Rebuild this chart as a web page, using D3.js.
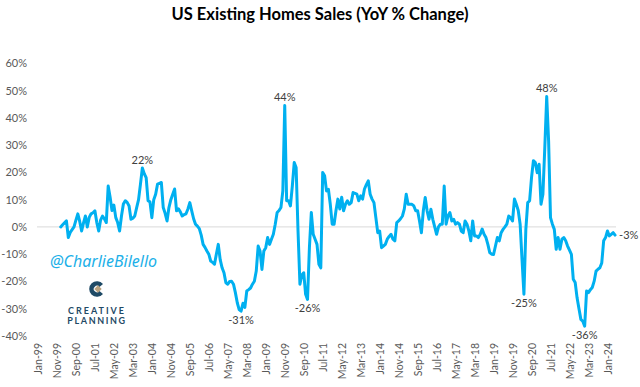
<!DOCTYPE html>
<html>
<head>
<meta charset="utf-8">
<script src="https://cdnjs.cloudflare.com/ajax/libs/d3/7.8.5/d3.min.js"></script>
<style>
body { margin: 0; background: #fff; }
text { font-family: Lato, "Open Sans", sans-serif; }
</style>
</head>
<body>
<svg id="chart" width="640" height="387"></svg>
<script>
var width = 640;
var height = 387;

// monthly categories on the axis run Jan-99 .. May-24
var axisStart = new Date(1999, 0, 1);
var axisEnd = new Date(2024, 5, 1);
var firstDataMonth = new Date(2000, 0, 1);

// YoY % change, Jan-00 .. May-24
var yoy = [
  0, 0.8, 1.5, 2.2, -3.9, -2, -1, 0, 2.5, 4.8, 2, -1.5,
  1.5, 4, 0, 3.5, 4.8, 5.2, 5.9, 1.6, -1.5, 2.5, 4, 3,
  1.6, 15, 11, 6, 8, 3.4, 1.6, -1.5, 4, 8.4, 9.6, 9,
  7.7, 2.8, 3.2, 4, 7.1, 10, 15.7, 21.6, 19.5, 18.1, 9.6, 9.2,
  3.4, 10, 12, 15.7, 16, 16.3, 7.1, 5, 2.2, 7.1, 10, 12,
  13.9, 5.9, 6.6, 5.5, 4, 4.5, 4.8, 6.6, 8.9, 5.9, 3, 1,
  0.3, -0.6, -3, -6.4, -7.5, -8.8, -10, -12.5, -13, -13.7, -9.9, -6.4,
  -12, -15, -16.8, -20.5, -21, -20, -19.9, -21, -24.1, -27.8, -30.3, -30.9,
  -28, -29.5, -23.5, -23, -22.4, -21, -19.9, -16.2, -7, -8.8, -15.6, -8.8,
  -7.6, -3.9, -6.4, -4.5, -2.7, 1, 5.3, 6, 7.1, 13.2, 44.5, 9.6,
  9.6, 7.7, 15, 23.6, 21.8, -1.5, -21, -17.6, -16.8, -24.7, -26.6, -7.6,
  5.3, -2.7, -4.5, -6.4, -13.7, -15, 20, 18.8, 13.2, 13.8, 8.3, 1,
  1, 6, 10.2, 6.6, 10.9, 5.9, 8.3, 9.6, 8.3, 8.9, 12.6, 12.3,
  12, 9.6, 11.4, 10.2, 13.9, 15.5, 16.9, 12, 10.2, 8.9, 3.4, -2.1,
  -1.5, -7.6, -7, -6.4, -4.5, -3.5, -2.7, -4.5, -5.1, 1.6, 2.2, 3,
  4, 6.6, 12, 8.3, 8.3, 8.3, 7.7, 5.9, 5.9, 2.2, -2.1, 5.9,
  10.8, 5.9, 2.8, 6.5, 2.8, 0, -2.7, 0, 1, 1, 15, 1,
  4, 5.3, 2.2, 2.8, 1, 1.6, 1, -1.5, -2.1, 2.2, 1, -1.5,
  -5.1, 2.2, -3.3, -3.3, -3.9, -2.7, -0.8, -2.7, -3.9, -6.4, -9.4, -10,
  -10.1, -7, -3.9, -5.1, -2.1, -0.9, 0, 1, 4, 3.4, 2.2, 10.2,
  8.3, 6, 1, -12, -24.7, -1, 8.9, 9.6, 18.1, 24.3, 23.6, 19.9,
  23, 8.3, 12, 29.2, 47.8, 31.5, 3.4, 1, -0.9, -8.2, -3.9, -8.2,
  -4.5, -3.9, -5.1, -7, -8.5, -10.1, -19.2, -20.4, -26, -30, -33.9, -34.6,
  -36.4, -23.5, -24.1, -23, -22.2, -19.9, -16.2, -15.5, -15, -13.2, -5.1, -3.9,
  -1.5, -3.3, -2.7, -2.1, -3
];

var tickLabels = ["Jan-99","Nov-99","Sep-00","Jul-01","May-02","Mar-03","Jan-04","Nov-04",
  "Sep-05","Jul-06","May-07","Mar-08","Jan-09","Nov-09","Sep-10","Jul-11","May-12","Mar-13",
  "Jan-14","Nov-14","Sep-15","Jul-16","May-17","Mar-18","Jan-19","Nov-19","Sep-20","Jul-21",
  "May-22","Mar-23","Jan-24"];
var yTicks = [60, 50, 40, 30, 20, 10, 0, -10, -20, -30, -40];

// data labels: month, text, where
var calloutMonths = ["Aug-03","Nov-09","May-21","Dec-07","Nov-10","May-20","Jan-23","May-24"];
var calloutTexts = ["22%","44%","48%","-31%","-26%","-25%","-36%","-3%"];
var calloutPos = ["above","above","above","below","below","below","below","right"];

var fmt = d3.timeFormat("%b-%y");
var months = d3.timeMonth.range(axisStart, axisEnd);
var categories = months.map(fmt);
var offset = d3.timeMonth.count(axisStart, firstDataMonth);

var data = yoy.map(function(v, i) { return {cat: categories[offset + i], value: v}; });

var svg = d3.select("#chart");

var x = d3.scalePoint()
    .domain(categories)
    .range([37, 616])
    .padding(0.5);

var y = d3.scaleLinear()
    .domain([-40, 60])
    .range([336, 63.3]);

// title
svg.append("text")
    .attr("x", 320)
    .attr("y", 20)
    .attr("text-anchor", "middle")
    .style("font-size", "16.5px")
    .style("font-weight", "bold")
    .style("fill", "#000")
    .text("US Existing Homes Sales (YoY % Change)");

// y axis labels (no line)
var yAxis = d3.axisLeft(y)
    .tickValues(yTicks)
    .tickSize(0)
    .tickPadding(0)
    .tickFormat(function(d) { return d + "%"; });

var gy = svg.append("g")
    .attr("transform", "translate(27,0)")
    .call(yAxis);
gy.select(".domain").remove();
gy.selectAll("text")
    .style("font-family", "Lato, sans-serif")
    .style("font-size", "11px")
    .style("fill", "#595959");

// zero line
svg.append("line")
    .attr("x1", 37)
    .attr("x2", 616)
    .attr("y1", y(0))
    .attr("y2", y(0))
    .style("stroke", "#d9d9d9")
    .style("stroke-width", 1);

// x axis labels, every 10th month, rotated
var xAxis = d3.axisBottom(x)
    .tickValues(tickLabels)
    .tickSize(0)
    .tickPadding(0);

var gx = svg.append("g")
    .attr("transform", "translate(0,343)")
    .call(xAxis);
gx.select(".domain").remove();
gx.selectAll("text")
    .attr("transform", "rotate(-90)")
    .attr("x", 0)
    .attr("y", 0)
    .attr("dy", "0.35em")
    .style("text-anchor", "end")
    .style("font-family", "Lato, sans-serif")
    .style("font-size", "10.5px")
    .style("fill", "#595959");

// the line
var line = d3.line()
    .x(function(d) { return x(d.cat); })
    .y(function(d) { return y(d.value); });

svg.append("path")
    .datum(data)
    .attr("d", line)
    .style("fill", "none")
    .style("stroke", "#00b0f0")
    .style("stroke-width", 3)
    .style("stroke-linejoin", "round")
    .style("stroke-linecap", "round");

// data labels
calloutTexts.forEach(function(t, i) {
  var d = data.find(function(p) { return p.cat == calloutMonths[i]; });
  var px = x(d.cat), py = y(d.value);
  var lab = svg.append("text")
      .style("font-size", "11px")
      .style("fill", "#404040")
      .attr("dy", "0.35em")
      .text(t);
  if (calloutPos[i] == "above") {
    lab.attr("x", px).attr("y", py - 8).attr("text-anchor", "middle");
  } else if (calloutPos[i] == "below") {
    lab.attr("x", px).attr("y", py + 9).attr("text-anchor", "middle");
  } else {
    lab.attr("x", px + 4).attr("y", py).attr("text-anchor", "start");
  }
});

// watermark
svg.append("text")
    .attr("x", 50)
    .attr("y", 267)
    .style("font-family", "'Noto Sans', sans-serif")
    .style("font-style", "italic")
    .style("font-size", "16px")
    .style("fill", "#1cb0e8")
    .text("@CharlieBilello");

// creative planning logo
var logo = svg.append("g").attr("transform", "translate(97,289)");
logo.append("path")
    .attr("d", d3.arc().innerRadius(3.2).outerRadius(7.8).startAngle(Math.PI * 0.72).endAngle(Math.PI * 2.28)())
    .style("fill", "#1f4a66");
logo.append("rect")
    .attr("x", -2.6).attr("y", -2.6)
    .attr("width", 5.2).attr("height", 5.2)
    .attr("transform", "translate(1,0) rotate(45)")
    .style("fill", "#b9a27f");

svg.append("text")
    .attr("x", 97).attr("y", 314)
    .attr("text-anchor", "middle")
    .style("font-size", "9px")
    .style("font-weight", "bold")
    .style("letter-spacing", "2px")
    .style("fill", "#1f4a66")
    .text("CREATIVE");
svg.append("text")
    .attr("x", 97).attr("y", 324)
    .attr("text-anchor", "middle")
    .style("font-size", "9px")
    .style("font-weight", "bold")
    .style("letter-spacing", "1.6px")
    .style("fill", "#1f4a66")
    .text("PLANNING");
</script>
</body>
</html>
